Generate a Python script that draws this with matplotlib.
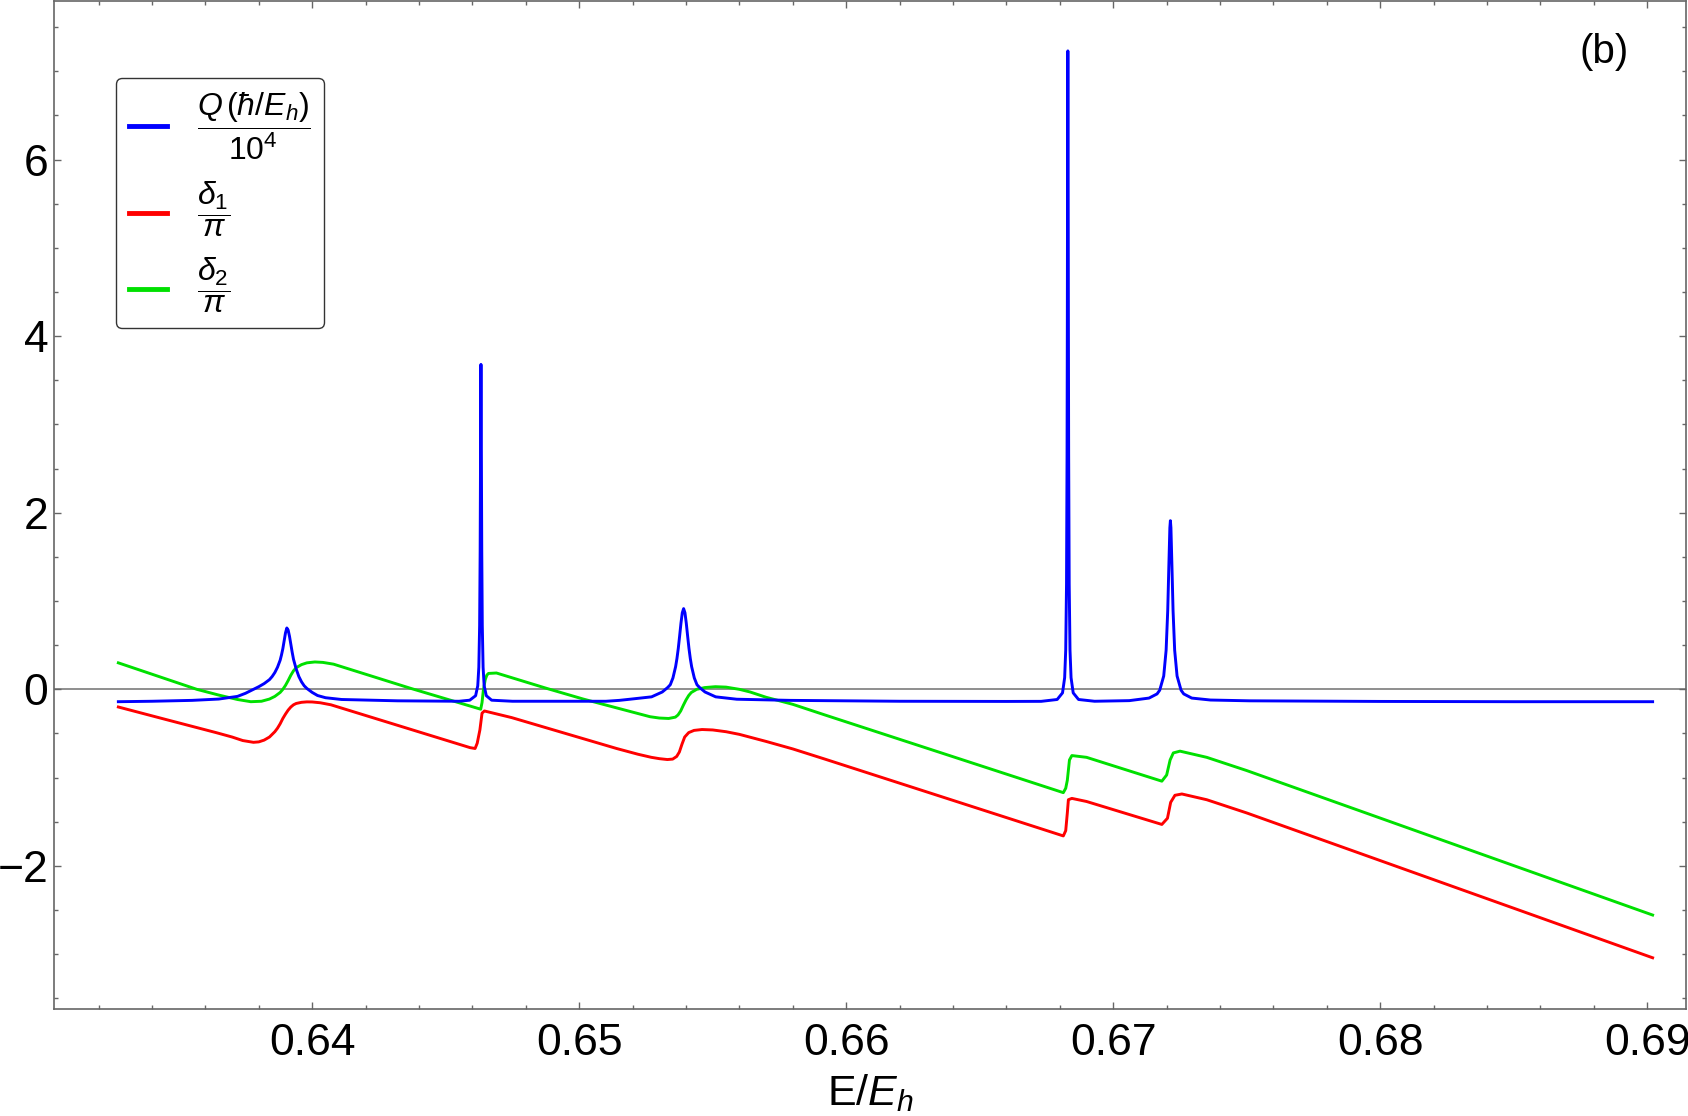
import matplotlib
matplotlib.use('Agg')
import matplotlib.pyplot as plt
from matplotlib.lines import Line2D
from matplotlib.ticker import MultipleLocator, FormatStrFormatter

plt.rcParams['font.family'] = ['Liberation Sans', 'DejaVu Sans']
plt.rcParams['mathtext.fontset'] = 'custom'
plt.rcParams['mathtext.rm'] = 'Liberation Sans'
plt.rcParams['mathtext.it'] = 'Liberation Sans:italic'
plt.rcParams['mathtext.bf'] = 'Liberation Sans:bold'

# Q / 10^4 (blue)
q_x = [0.63274, 0.6340, 0.6355, 0.6365, 0.6372, 0.6375, 0.6378, 0.6380, 0.6382,
       0.6384, 0.6385, 0.6386, 0.6387, 0.6388, 0.63885, 0.6389, 0.63895, 0.6390,
       0.63905, 0.6391, 0.63915, 0.6392, 0.63925, 0.6393, 0.6394, 0.6395, 0.6396,
       0.6397, 0.6398, 0.6400, 0.6402, 0.6405, 0.6411, 0.6432, 0.6455,
       0.6459, 0.64612, 0.64620, 0.64624, 0.64627, 0.64629, 0.64630, 0.64631,
       0.64632, 0.64633, 0.64634, 0.64635, 0.64637, 0.64640, 0.64644, 0.64652,
       0.64672, 0.6475, 0.6510, 0.6515, 0.6519,
       0.65271, 0.65311, 0.65331, 0.65341, 0.65351, 0.65361, 0.65366, 0.65371,
       0.65376, 0.65381, 0.65386, 0.65391, 0.65396, 0.65401, 0.65406, 0.65411,
       0.65416, 0.65421, 0.65431, 0.65441, 0.65451, 0.65471, 0.65511, 0.6559,
       0.6579, 0.6620,
       0.6660, 0.6673, 0.6679, 0.6681, 0.66818, 0.66822, 0.66825, 0.66827,
       0.66828, 0.66829, 0.66830, 0.66831, 0.66832, 0.66833, 0.66835, 0.66838,
       0.66842, 0.6685, 0.6687, 0.6693, 0.6706,
       0.67134, 0.67164, 0.67174, 0.67189, 0.67198, 0.67204, 0.67208, 0.67212,
       0.67214, 0.67216, 0.67220, 0.67224, 0.67230, 0.67239, 0.67254, 0.67264,
       0.67294, 0.67364, 0.6751, 0.6800, 0.6850, 0.6902]
q_y = [-0.14, -0.135, -0.125, -0.11, -0.08, -0.045, 0.0, 0.03, 0.065,
       0.11, 0.145, 0.19, 0.25, 0.33, 0.39, 0.46, 0.55, 0.64,
       0.695, 0.67, 0.60, 0.51, 0.42, 0.34, 0.23, 0.145, 0.085,
       0.04, 0.01, -0.035, -0.07, -0.095, -0.115, -0.13, -0.135,
       -0.123, -0.072, 0.04, 0.25, 0.72, 1.57, 2.32, 3.22,
       3.68, 3.22, 2.32, 1.57, 0.72, 0.25, 0.04, -0.072,
       -0.123, -0.135, -0.135, -0.125, -0.112,
       -0.085, -0.03, 0.02, 0.052, 0.129, 0.257, 0.349, 0.464,
       0.603, 0.748, 0.867, 0.914, 0.867, 0.748, 0.603, 0.464,
       0.349, 0.257, 0.129, 0.052, 0.02, -0.03, -0.085, -0.112,
       -0.125, -0.135,
       -0.137, -0.136, -0.115, -0.04, 0.132, 0.445, 1.19, 2.66,
       4.13, 6.10, 7.23, 6.10, 4.13, 2.66, 1.19, 0.445,
       0.132, -0.04, -0.115, -0.135, -0.128,
       -0.099, -0.052, -0.01, 0.151, 0.443, 0.89, 1.37, 1.83,
       1.91, 1.83, 1.37, 0.89, 0.443, 0.151, -0.01, -0.052,
       -0.099, -0.121, -0.13, -0.137, -0.14, -0.14]

# delta_1 / pi (red)
d1_x = [0.63274, 0.6345, 0.6364, 0.6370, 0.6374, 0.6378, 0.6380, 0.6382,
        0.6384, 0.6386, 0.6387, 0.6388, 0.6389, 0.6390, 0.6391, 0.6392,
        0.6393, 0.6394, 0.6396, 0.6398, 0.6400, 0.6403, 0.6407,
        0.64591, 0.64610, 0.64618, 0.64628, 0.64636, 0.64645, 0.64747,
        0.6514, 0.6522, 0.6527, 0.6530, 0.6533, 0.6535, 0.65365, 0.65375,
        0.65385, 0.65395, 0.6541, 0.6543, 0.6546, 0.6550, 0.6555, 0.6560,
        0.6570, 0.6580, 0.6592, 0.66813, 0.66822, 0.66828, 0.66832, 0.66845,
        0.6690, 0.67182, 0.67203, 0.67215, 0.67231, 0.67257, 0.6735, 0.6750,
        0.6902]
d1_y = [-0.20, -0.34, -0.49, -0.54, -0.58, -0.60, -0.595, -0.575,
        -0.54, -0.48, -0.44, -0.39, -0.33, -0.28, -0.235, -0.20,
        -0.175, -0.16, -0.147, -0.142, -0.143, -0.152, -0.175,
        -0.66, -0.67, -0.61, -0.46, -0.27, -0.245, -0.32,
        -0.67, -0.735, -0.77, -0.785, -0.795, -0.79, -0.76, -0.71,
        -0.62, -0.54, -0.49, -0.465, -0.455, -0.46, -0.48, -0.51,
        -0.59, -0.675, -0.79, -1.66, -1.60, -1.40, -1.25, -1.235,
        -1.27, -1.53, -1.46, -1.28, -1.20, -1.185, -1.25, -1.40,
        -3.04]

# delta_2 / pi (green)
d2_x = [0.63274, 0.63568, 0.6365, 0.6372, 0.6377, 0.6381, 0.6384, 0.6386,
        0.6388, 0.6389, 0.6390, 0.6391, 0.6392, 0.6393, 0.6394, 0.6396,
        0.6398, 0.6401, 0.6404, 0.6408, 0.64370, 0.64631, 0.64636,
        0.64641, 0.64648, 0.64654, 0.64660, 0.64690, 0.64879, 0.65015,
        0.65265, 0.6530, 0.65335, 0.6536, 0.6537, 0.6538, 0.6539, 0.6540,
        0.6541, 0.6542, 0.6544, 0.6547, 0.6551, 0.6555, 0.6560, 0.6564,
        0.6570, 0.6580, 0.6592, 0.66813, 0.66822, 0.66828, 0.66836, 0.66845,
        0.6690, 0.67182, 0.67200, 0.67213, 0.67225, 0.67250, 0.6735,
        0.6750, 0.6902]
d2_y = [0.30, 0.0, -0.065, -0.115, -0.14, -0.135, -0.11, -0.08,
        -0.035, 0.0, 0.045, 0.10, 0.16, 0.21, 0.245, 0.28,
        0.30, 0.31, 0.305, 0.285, 0.01, -0.225, -0.15,
        -0.01, 0.11, 0.16, 0.18, 0.185, 0.01, -0.11,
        -0.31, -0.325, -0.33, -0.315, -0.29, -0.245, -0.18, -0.12,
        -0.07, -0.035, 0.0, 0.02, 0.03, 0.025, 0.0, -0.03,
        -0.09, -0.17, -0.29, -1.17, -1.12, -1.03, -0.80, -0.75,
        -0.77, -1.04, -0.97, -0.80, -0.72, -0.70, -0.77,
        -0.92, -2.556]

blue = '#0000ff'
red = '#ff0000'
green = '#00e000'
frame_gray = '#666666'

fig = plt.figure(figsize=(16.88, 11.16), dpi=100)
ax = fig.add_axes([54 / 1688, 1 - 1009 / 1116, 1632 / 1688, 1008 / 1116])

ax.axhline(0, color='#707070', lw=1.1, zorder=1)
ax.plot(q_x, q_y, color=blue, lw=2.1, zorder=3)
ax.plot(d1_x, d1_y, color=red, lw=2.1, zorder=2)
ax.plot(d2_x, d2_y, color=green, lw=2.1, zorder=2)

ax.set_xlim(0.63033, 0.69145)
ax.set_ylim(-3.62, 7.795)

ax.xaxis.set_major_locator(MultipleLocator(0.01))
ax.xaxis.set_minor_locator(MultipleLocator(0.002))
ax.xaxis.set_major_formatter(FormatStrFormatter('%.2f'))
ax.yaxis.set_major_locator(MultipleLocator(2))
ax.yaxis.set_minor_locator(MultipleLocator(0.5))

for s in ax.spines.values():
    s.set_color(frame_gray)
    s.set_linewidth(1.2)
ax.tick_params(which='both', direction='in', top=True, right=True, color=frame_gray, width=1)
ax.tick_params(which='major', length=5)
ax.tick_params(which='minor', length=3)
ax.tick_params(axis='x', which='major', pad=10)
ax.tick_params(axis='y', which='major', pad=4)
for lab in ax.get_xticklabels() + ax.get_yticklabels():
    lab.set_fontfamily(['Liberation Sans Narrow', 'Liberation Sans'])
    lab.set_fontsize(32)

ax.set_xlabel(r'$\mathrm{E}/E_h$', fontsize=31, labelpad=6)
ax.text(0.9498, 0.9494, '(b)', transform=ax.transAxes, fontsize=29,
        ha='center', va='center')

handles = [Line2D([], [], color=blue, lw=3.5),
           Line2D([], [], color=red, lw=3.5),
           Line2D([], [], color=green, lw=3.5)]
labels = [r'$\dfrac{Q\,(\hbar/E_h)}{10^4}$',
          r'$\dfrac{\delta_1}{\pi}$',
          r'$\dfrac{\delta_2}{\pi}$']
leg = ax.legend(handles, labels, loc='upper left', bbox_to_anchor=(0.038, 0.9236),
                borderaxespad=0, fontsize=23, handlelength=1.2, handletextpad=0.95,
                labelspacing=0.55, borderpad=0.4, fancybox=True, framealpha=1)
leg.get_frame().set_edgecolor('#333333')
leg.get_frame().set_linewidth(1.0)

fig.savefig('out.png', dpi=100)
